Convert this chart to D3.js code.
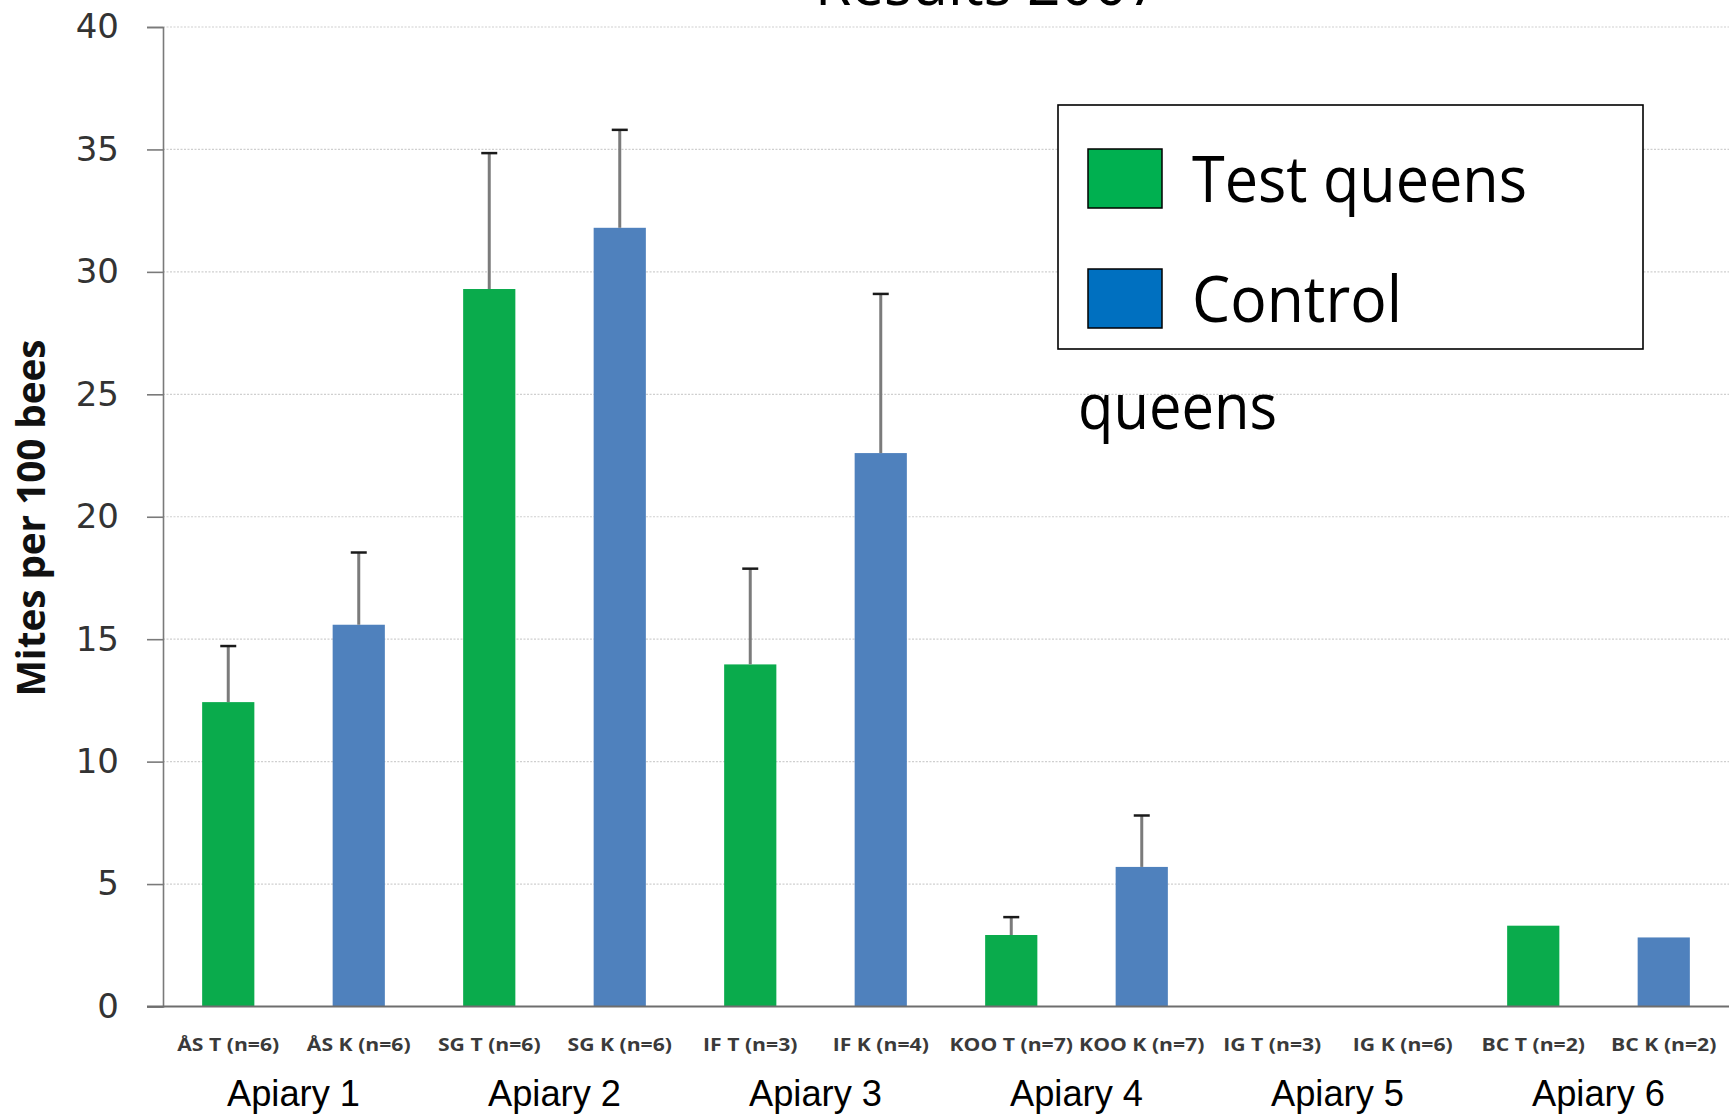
<!DOCTYPE html>
<html>
<head>
<meta charset="utf-8">
<script src="https://cdn.jsdelivr.net/npm/d3@7"></script>
<style>
  html, body { margin: 0; padding: 0; background: #fff; overflow: hidden; }
  svg { display: block; }
</style>
</head>
<body>
<svg id="chart" width="1734" height="1115"></svg>
<script>
// Varroa mite counts per colony group, 2007
const categories = ["ÅS T (n=6)", "ÅS K (n=6)", "SG T (n=6)", "SG K (n=6)", "IF T (n=3)", "IF K (n=4)",
                    "KOO T (n=7)", "KOO K (n=7)", "IG T (n=3)", "IG K (n=6)", "BC T (n=2)", "BC K (n=2)"];
const groups = ["Test", "Control", "Test", "Control", "Test", "Control",
                "Test", "Control", "Test", "Control", "Test", "Control"];
const means = [12.43, 15.59, 29.3, 31.8, 13.97, 22.6, 2.92, 5.7, 0, 0, 3.3, 2.82];
const errors = [2.29, 2.95, 5.55, 4.0, 3.91, 6.5, 0.73, 2.1, null, null, null, null];
const apiaries = ["Apiary 1", "Apiary 2", "Apiary 3", "Apiary 4", "Apiary 5", "Apiary 6"];
const yTicks = [0, 5, 10, 15, 20, 25, 30, 35, 40];
const legendLabels = ["Test queens", "Control"];

const barColor = { Test: "#0aab4c", Control: "#4f81bd" };
const legendColor = { Test: "#00b050", Control: "#0070c0" };

const svg = d3.select("#chart");

const x = d3.scaleBand().domain(categories).range([163, 1729])
  .paddingInner(0.6).paddingOuter(0.3);
const y = d3.scaleLinear().domain([0, 40]).range([1006.5, 27]);

// squeeze a text element to a given rendered width
function fitWidth(sel, w) {
  sel.attr("textLength", w).attr("lengthAdjust", "spacingAndGlyphs");
  return sel;
}

// title (sits mostly above the top edge)
fitWidth(svg.append("text")
  .attr("x", 988).attr("y", 5)
  .attr("text-anchor", "middle")
  .attr("font-family", "'Open Sans', sans-serif")
  .attr("font-size", 62)
  .attr("fill", "#000")
  .text("Results 2007"), 346);

// horizontal gridlines
svg.append("g").selectAll("line")
  .data(yTicks.filter(d => d > 0))
  .join("line")
  .attr("x1", 163).attr("x2", 1729)
  .attr("y1", d => y(d)).attr("y2", d => y(d))
  .attr("stroke", "#cfcfcf")
  .attr("stroke-width", 1.2)
  .attr("stroke-dasharray", "2,1.5");

// y axis
const yAxis = svg.append("g")
  .attr("transform", "translate(163,0)")
  .call(d3.axisLeft(y).tickValues(yTicks).tickSize(16).tickPadding(28).tickFormat(d3.format("d")));
yAxis.select(".domain").attr("stroke", "#7a7a7a").attr("stroke-width", 1.6);
yAxis.selectAll(".tick line").attr("stroke", "#7a7a7a").attr("stroke-width", 1.6);
yAxis.selectAll(".tick text")
  .attr("font-family", "'DejaVu Sans', Verdana, sans-serif")
  .attr("font-size", 34)
  .attr("fill", "#333");

// y axis title
fitWidth(svg.append("text")
  .attr("transform", "translate(45,518) rotate(-90)")
  .attr("text-anchor", "middle")
  .attr("font-family", "'Open Sans', sans-serif")
  .attr("font-weight", 700)
  .attr("font-size", 40)
  .attr("fill", "#111")
  .text("Mites per 100 bees"), 357);

// bars
const rows = categories.map((c, i) => ({ cat: c, group: groups[i], mean: means[i], err: errors[i] }));

svg.append("g").selectAll("rect")
  .data(rows)
  .join("rect")
  .attr("x", d => x(d.cat))
  .attr("width", x.bandwidth())
  .attr("y", d => y(d.mean))
  .attr("height", d => y(0) - y(d.mean))
  .attr("fill", d => barColor[d.group]);

// upper error bars
const eb = svg.append("g").selectAll("g")
  .data(rows.filter(d => d.err != null))
  .join("g");
eb.append("line")
  .attr("x1", d => x(d.cat) + x.bandwidth() / 2)
  .attr("x2", d => x(d.cat) + x.bandwidth() / 2)
  .attr("y1", d => y(d.mean))
  .attr("y2", d => y(d.mean + d.err))
  .attr("stroke", "#7b7b7b")
  .attr("stroke-width", 3);
eb.append("line")
  .attr("x1", d => x(d.cat) + x.bandwidth() / 2 - 8)
  .attr("x2", d => x(d.cat) + x.bandwidth() / 2 + 8)
  .attr("y1", d => y(d.mean + d.err))
  .attr("y2", d => y(d.mean + d.err))
  .attr("stroke", "#1a1a1a")
  .attr("stroke-width", 2.5);

// x axis baseline
svg.append("line")
  .attr("x1", 147).attr("x2", 1729)
  .attr("y1", y(0)).attr("y2", y(0))
  .attr("stroke", "#6e6e6e").attr("stroke-width", 2);

// category labels
const catText = svg.append("g").selectAll("text")
  .data(categories)
  .join("text")
  .attr("x", d => x(d) + x.bandwidth() / 2)
  .attr("y", 1051)
  .attr("text-anchor", "middle")
  .attr("font-family", "'Open Sans', sans-serif")
  .attr("font-weight", 700)
  .attr("font-size", 18)
  .attr("fill", "#3a3a3a")
  .text(d => d);
// condense all labels by the same factor
const refW = catText.filter((d, i) => i === 0).node().getComputedTextLength();
const squeeze = 102 / refW;
catText.each(function () {
  const w = this.getComputedTextLength();
  d3.select(this).attr("textLength", w * squeeze).attr("lengthAdjust", "spacingAndGlyphs");
});

// apiary labels, centred under each pair of bars
svg.append("g").selectAll("text")
  .data(apiaries)
  .join("text")
  .attr("x", (d, i) => (x(categories[2 * i]) + x(categories[2 * i + 1]) + x.bandwidth()) / 2)
  .attr("y", 1106)
  .attr("text-anchor", "middle")
  .attr("font-family", "'Liberation Sans', Arial, sans-serif")
  .attr("font-size", 37)
  .attr("fill", "#000")
  .text(d => d)
  .each(function () {
    d3.select(this).attr("textLength", 133).attr("lengthAdjust", "spacingAndGlyphs");
  });

// legend
const legend = svg.append("g");
legend.append("rect")
  .attr("x", 1058).attr("y", 105)
  .attr("width", 585).attr("height", 244)
  .attr("fill", "#fff")
  .attr("stroke", "#000").attr("stroke-width", 1.6);

const legendKeys = ["Test", "Control"];
const legendY = d3.scalePoint().domain(legendKeys).range([149, 269]);
legend.selectAll(".sw")
  .data(legendKeys)
  .join("rect")
  .attr("class", "sw")
  .attr("x", 1088).attr("y", d => legendY(d))
  .attr("width", 74).attr("height", 59)
  .attr("fill", d => legendColor[d])
  .attr("stroke", "#000").attr("stroke-width", 1.5);

const legendWidths = [335, 210];
legend.selectAll(".lt")
  .data(legendLabels)
  .join("text")
  .attr("class", "lt")
  .attr("x", 1192)
  .attr("y", (d, i) => legendY(legendKeys[i]) + 53)
  .attr("font-family", "'Open Sans', sans-serif")
  .attr("font-size", 64)
  .attr("fill", "#000")
  .text(d => d)
  .each(function (d, i) {
    d3.select(this).attr("textLength", legendWidths[i]).attr("lengthAdjust", "spacingAndGlyphs");
  });

// overflow word of the second legend entry, below the box
fitWidth(svg.append("text")
  .attr("x", 1078).attr("y", 429)
  .attr("font-family", "'Open Sans', sans-serif")
  .attr("font-size", 64)
  .attr("fill", "#000")
  .text("queens"), 199);
</script>
</body>
</html>
